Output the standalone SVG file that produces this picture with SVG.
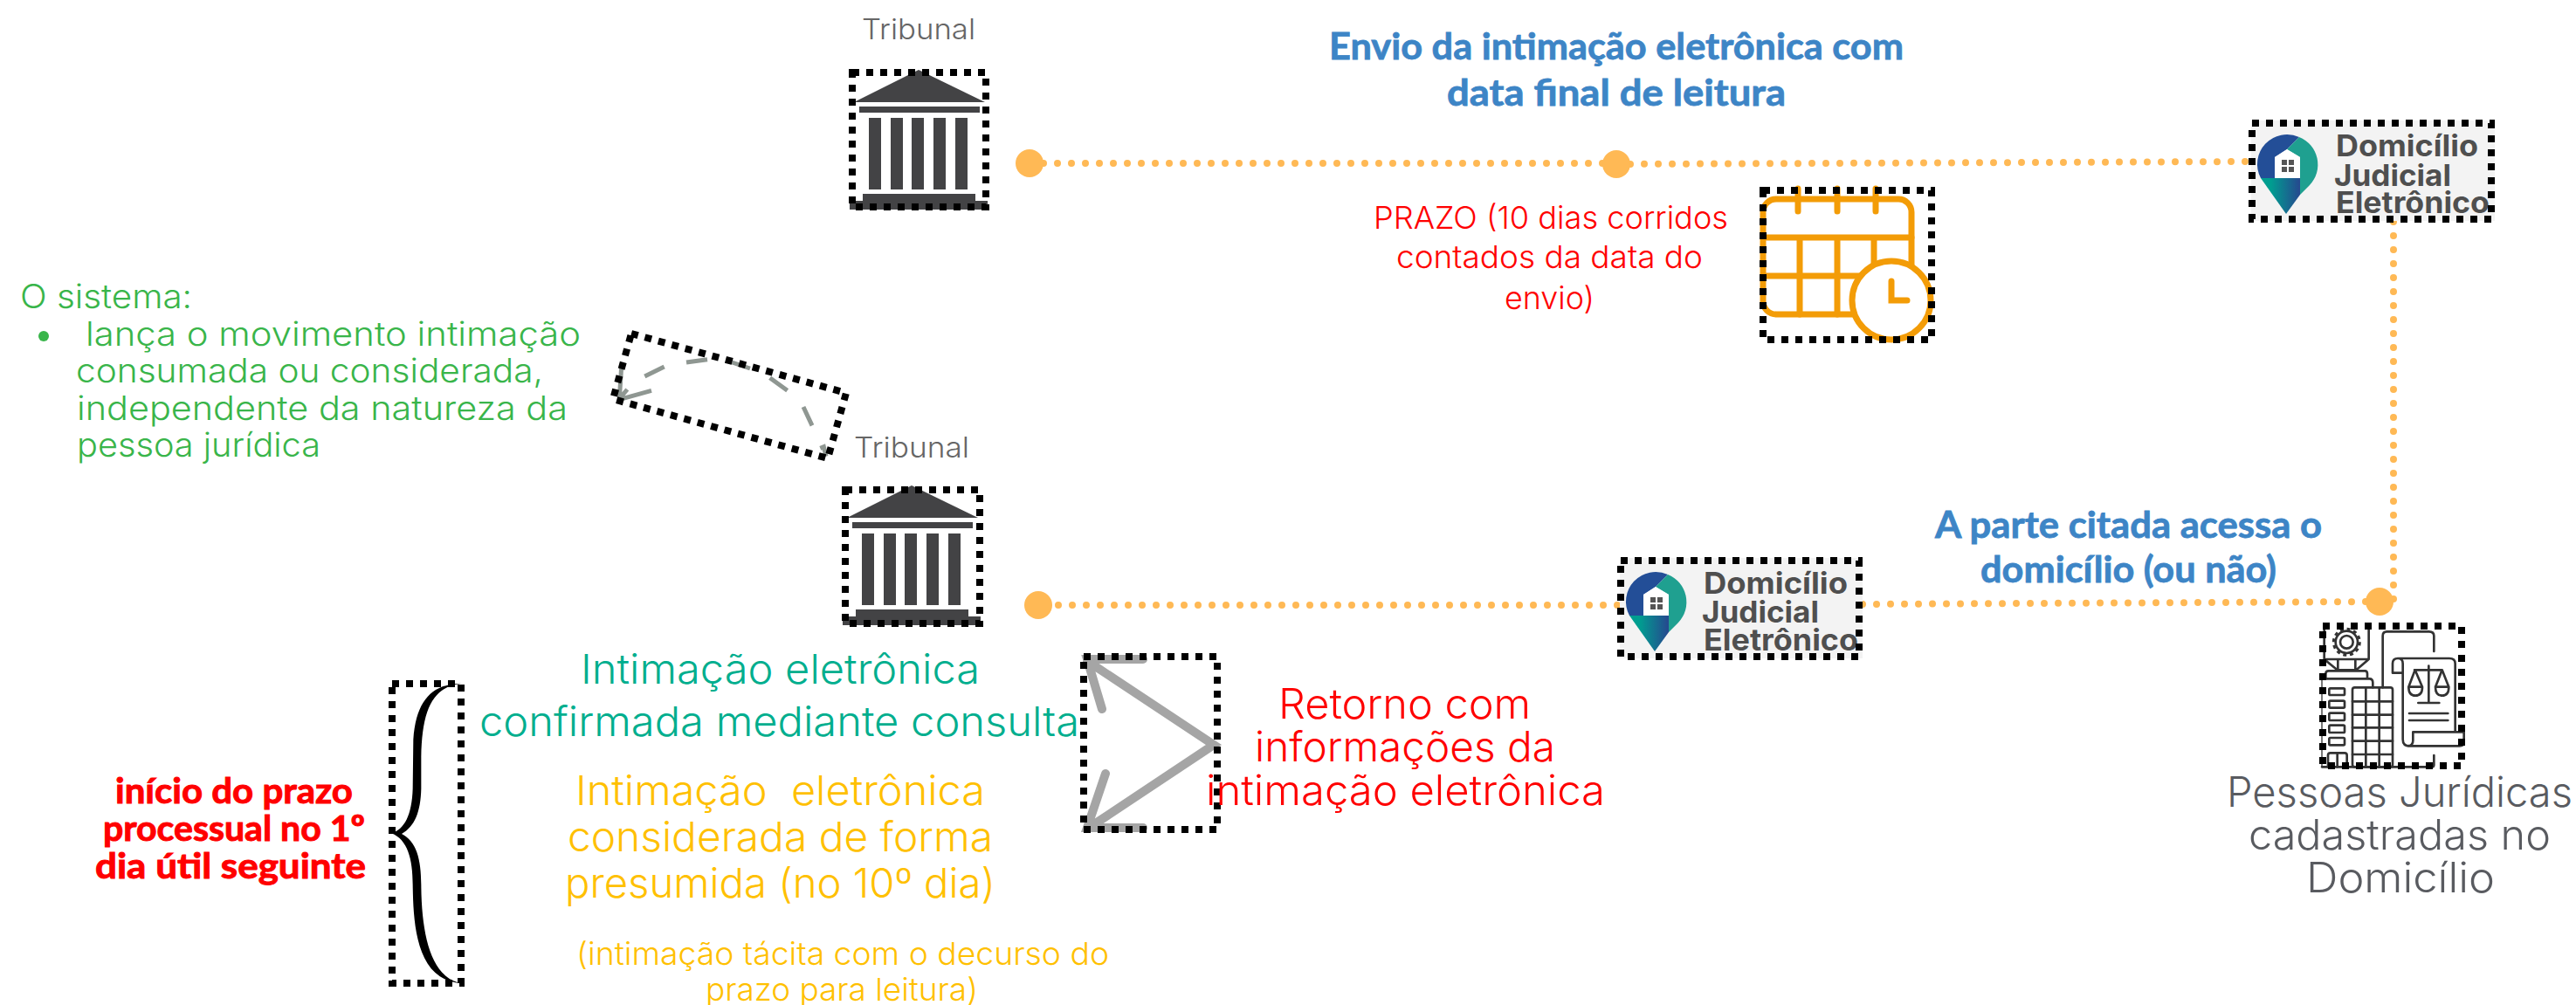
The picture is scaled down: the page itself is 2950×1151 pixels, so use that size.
<svg xmlns="http://www.w3.org/2000/svg" xmlns:xlink="http://www.w3.org/1999/xlink" width="2950" height="1151" viewBox="0 0 2950 1151">
<style>
text{font-family:"Inter","Noto Sans",sans-serif;font-weight:300}
.hand{font-family:"Lato","Noto Sans",sans-serif;font-weight:700}
.blue{fill:#3d85c6;font-size:42px;stroke:#3d85c6;stroke-width:.8px}
.logo{font-family:"Inter","Liberation Sans",sans-serif;font-weight:700;font-size:34px;fill:#4f4f4f}
.sel{fill:none;stroke:#000;stroke-width:8;stroke-dasharray:8 8}
.dots{fill:none;stroke:#ffb955;stroke-width:8;stroke-linecap:round;stroke-dasharray:0 16}
.end{fill:#ffb955}
.trib{font-size:33px;fill:#666}
.green{font-size:38px;fill:#39b54a}
.teal{font-size:47px;fill:#00ae8e}
.yel{fill:#ffc000}
.red{fill:#f00}
.pj{font-size:48px;fill:#595b60}
.ln{fill:none;stroke:#333;stroke-width:8;stroke-linejoin:round;stroke-linecap:round}
.cal{fill:none;stroke:#f39c07;stroke-width:7;stroke-linecap:round}
.dash{fill:none;stroke:#8f9792;stroke-width:15}
.arrow{fill:none;stroke:#a5a5a5;stroke-width:10;stroke-linecap:round;stroke-linejoin:miter}
</style>
<defs>
<linearGradient id="pinGrad" x1="0" x2="1" y1="0" y2="0"><stop offset="0.25" stop-color="#009e90"/><stop offset="1" stop-color="#26488f"/></linearGradient>
<g id="bank" fill="#434345">
<path d="M1052 80L1128 117H978Z"/>
<rect x="984" y="122" width="138" height="7"/>
<rect x="995" y="135" width="14" height="82"/><rect x="1020" y="135" width="14" height="82"/><rect x="1044" y="135" width="14" height="82"/><rect x="1069" y="135" width="14" height="82"/><rect x="1094" y="135" width="14" height="82"/>
<rect x="988" y="222" width="129" height="9"/><rect x="973" y="230" width="158" height="10"/>
</g>
<g id="pin">
<path d="M2633 157A34 34 0 0 0 2589 204H2605V180L2619 171Z" fill="#234e97"/>
<path d="M2633 157A34 34 0 0 1 2645 212L2634 223V180L2619 171Z" fill="#1fa090"/>
<path d="M2589 204H2634V223L2618 245Z" fill="url(#pinGrad)"/>
<path d="M2619 171L2634 180V204H2605V180Z" fill="#fff"/>
<path d="M2613 183h6v6h-6zM2621 183h6v6h-6zM2613 191h6v6h-6zM2621 191h6v6h-6z" fill="#555"/>
</g>
</defs>
<rect width="2950" height="1151" fill="#fff"/>

<g id="connectors">
<path class="dots" d="M1179 187H1851"/>
<path class="dots" d="M1851 188L2575 185"/>
<path class="dots" d="M2741 254V690"/>
<path class="dots" d="M2725 689L2133 692"/>
<path class="dots" d="M1852 693H1189"/>
<circle class="end" cx="1179" cy="187" r="16"/>
<circle class="end" cx="1851" cy="188" r="16"/>
<circle class="end" cx="2725" cy="689" r="16"/>
<circle class="end" cx="1189" cy="693" r="16"/>
</g>

<g id="tribunal-1">
<text class="trib" x="987" y="45" textLength="130" lengthAdjust="spacingAndGlyphs">Tribunal</text>
<use href="#bank" xlink:href="#bank"/>
<rect class="sel" x="976" y="83" width="153" height="154"/>
</g>

<g id="label-envio">
<text class="hand blue" x="1522" y="68" textLength="658" lengthAdjust="spacingAndGlyphs">Envio da intimação eletrônica com</text>
<text class="hand blue" x="1657" y="121" textLength="388" lengthAdjust="spacingAndGlyphs">data final de leitura</text>
</g>

<g id="label-prazo">
<text class="red" font-size="36" x="1573" y="262" textLength="406" lengthAdjust="spacingAndGlyphs">PRAZO (10 dias corridos</text>
<text class="red" font-size="36" x="1599" y="307" textLength="351" lengthAdjust="spacingAndGlyphs">contados da data do</text>
<text class="red" font-size="36" x="1723" y="354" textLength="103" lengthAdjust="spacingAndGlyphs">envio)</text>
</g>

<g id="calendario">
<rect class="cal" x="2019" y="228" width="170" height="132" rx="15"/>
<path class="cal" d="M2059 216V242M2104 216V242M2148 216V242M2019 272H2189M2019 316H2130M2061 272V360M2104 272V360M2146 272V302"/>
<circle cx="2166" cy="344" r="45" fill="#fff" stroke="#f39c07" stroke-width="7"/>
<path class="cal" d="M2166 322V344H2184"/>
<rect class="sel" x="2019" y="218" width="193" height="171"/>
</g>

<g id="domicilio-1">
<rect x="2578" y="138" width="279" height="115" fill="#f3f3f3"/>
<use href="#pin" xlink:href="#pin"/>
<text class="logo" x="2675" y="179" textLength="163" lengthAdjust="spacingAndGlyphs">Domicílio</text>
<text class="logo" x="2673" y="213" textLength="134" lengthAdjust="spacingAndGlyphs">Judicial</text>
<text class="logo" x="2675" y="244" textLength="176" lengthAdjust="spacingAndGlyphs">Eletrônico</text>
<rect class="sel" x="2579" y="141" width="274" height="110"/>
</g>

<g id="pessoas-juridicas">
<g transform="translate(2620 660) scale(.33333)">
<path class="ln" d="M125 165V285L170 322H235L278 285V165M125 285H278M172 285V322M232 285V322"/>
<circle class="ln" cx="202" cy="226" r="22"/>
<circle class="ln" cx="202" cy="226" r="38"/>
<circle cx="202" cy="226" r="45" fill="none" stroke="#333" stroke-width="9" stroke-dasharray="12 11.5"/>
<path class="ln" d="M130 350V335Q130 325 140 325H265Q273 325 273 335V350M115 352H280Q292 352 292 365V382"/>
<path d="M117 352V655" fill="none" stroke="#333" stroke-width="4"/>
<rect class="ln" x="142" y="385" width="53" height="23" rx="4"/><rect class="ln" x="142" y="428" width="53" height="24" rx="4"/><rect class="ln" x="142" y="470" width="53" height="25" rx="4"/><rect class="ln" x="142" y="512" width="53" height="25" rx="4"/><rect class="ln" x="142" y="555" width="53" height="25" rx="4"/>
<path class="ln" d="M138 655V615Q138 607 146 607H195Q203 607 203 615V655M170 607V655"/>
<rect class="ln" x="222" y="382" width="138" height="273" rx="8"/>
<path class="ln" d="M268 382V655M314 382V655M222 430H360M222 476H360M222 520H360M222 566H360M222 612H360"/>
<path class="ln" d="M326 382V205Q326 190 340 190H485Q502 190 502 205V258"/>
<path class="ln" d="M378 282H555Q575 282 575 300V535M395 300V560Q395 583 418 583H590Q605 583 605 570V535H430V565Q430 583 412 583M395 300Q395 282 378 282Q360 282 360 300V332H395"/>
<path class="ln" d="M484 308V435M448 435H520M435 322H530M437 322L415 380H462ZM415 380Q415 410 438 410Q462 410 462 380M530 322L507 380H553ZM507 380Q507 410 530 410Q553 410 553 380M417 471H550M417 495H550"/>
<path class="ln" d="M502 615V648Q502 655 495 655H117"/>
</g>
<rect class="sel" x="2660" y="717" width="159" height="160"/>
<text class="pj" x="2550" y="924" textLength="396" lengthAdjust="spacingAndGlyphs">Pessoas Jurídicas</text>
<text class="pj" x="2575" y="973" textLength="346" lengthAdjust="spacingAndGlyphs">cadastradas no</text>
<text class="pj" x="2641" y="1022" textLength="216" lengthAdjust="spacingAndGlyphs">Domicílio</text>
</g>

<g id="label-acessa">
<text class="hand blue" x="2216" y="616" textLength="443" lengthAdjust="spacingAndGlyphs">A parte citada acessa o</text>
<text class="hand blue" x="2268" y="667" textLength="339" lengthAdjust="spacingAndGlyphs">domicílio (ou não)</text>
</g>

<g id="domicilio-2">
<rect x="1855" y="639" width="278" height="115" fill="#f3f3f3"/>
<use href="#pin" xlink:href="#pin" transform="translate(-723 501)"/>
<text class="logo" x="1951" y="680" textLength="165" lengthAdjust="spacingAndGlyphs">Domicílio</text>
<text class="logo" x="1949" y="713" textLength="134" lengthAdjust="spacingAndGlyphs">Judicial</text>
<text class="logo" x="1951" y="745" textLength="177" lengthAdjust="spacingAndGlyphs">Eletrônico</text>
<rect class="sel" x="1856" y="642" width="273" height="110"/>
</g>

<g id="sistema">
<text class="green" x="23" y="353" textLength="197" lengthAdjust="spacingAndGlyphs">O sistema:</text>
<circle cx="50" cy="385" r="6" fill="#39b54a"/>
<text class="green" x="98" y="396" textLength="567" lengthAdjust="spacingAndGlyphs">lança o movimento intimação</text>
<text class="green" x="87" y="438" textLength="535" lengthAdjust="spacingAndGlyphs">consumada ou considerada,</text>
<text class="green" x="88" y="481" textLength="562" lengthAdjust="spacingAndGlyphs">independente da natureza da</text>
<text class="green" x="88" y="523" textLength="279" lengthAdjust="spacingAndGlyphs">pessoa jurídica</text>
</g>

<g id="seta-curva">
<g transform="translate(660 360) scale(.33333)">
<path class="dash" d="M810 382L780 318M725 262L665 218M597 186L535 165M450 155L378 165M302 180L235 213M258 262L150 292M175 258L148 290M155 180L148 290M858 488L850 455L838 460"/>
</g>
<path class="sel" d="M723 382L969 450L948 525L702 457Z"/>
</g>

<g id="tribunal-2">
<text class="trib" x="978" y="524" textLength="132" lengthAdjust="spacingAndGlyphs">Tribunal</text>
<use href="#bank" xlink:href="#bank" transform="translate(-8 476)"/>
<rect class="sel" x="968" y="561" width="154" height="153"/>
</g>

<g id="textos-intimacao">
<text class="teal" x="665" y="783" textLength="457" lengthAdjust="spacingAndGlyphs">Intimação eletrônica</text>
<text class="teal" x="549" y="843" textLength="687" lengthAdjust="spacingAndGlyphs">confirmada mediante consulta</text>
<text class="yel" font-size="47" x="659" y="922" textLength="469" lengthAdjust="spacingAndGlyphs" xml:space="preserve">Intimação  eletrônica</text>
<text class="yel" font-size="47" x="650" y="975" textLength="487" lengthAdjust="spacingAndGlyphs">considerada de forma</text>
<text class="yel" font-size="47" x="647" y="1028" textLength="493" lengthAdjust="spacingAndGlyphs">presumida (no 10º dia)</text>
<text class="yel" font-size="36" x="660" y="1105" textLength="610" lengthAdjust="spacingAndGlyphs">(intimação tácita com o decurso do</text>
<text class="yel" font-size="36" x="808" y="1146" textLength="312" lengthAdjust="spacingAndGlyphs">prazo para leitura)</text>
</g>

<g id="seta-retorno">
<path class="arrow" d="M1309 755H1245L1262 812M1245 757L1390 853L1250 946M1266 886L1245 948H1309"/>
<rect class="sel" x="1241" y="752" width="153" height="198"/>
</g>

<g id="label-retorno">
<text class="red" font-size="48" x="1464" y="823" textLength="289" lengthAdjust="spacingAndGlyphs">Retorno com</text>
<text class="red" font-size="48" x="1437" y="872" textLength="344" lengthAdjust="spacingAndGlyphs">informações da</text>
<text class="red" font-size="48" x="1381" y="922" textLength="457" lengthAdjust="spacingAndGlyphs">intimação eletrônica</text>
</g>

<g id="chave">
<g transform="translate(100 770) scale(.33333)">
<path d="M1285 38C1190 40 1130 90 1120 230L1118 400C1115 490 1090 540 1045 553C1100 575 1118 640 1118 730C1120 850 1125 1060 1285 1068C1180 1050 1148 900 1147 730C1147 640 1130 580 1080 555C1125 530 1145 480 1147 400V290C1150 130 1185 50 1285 38Z" fill="#000"/>
</g>
<rect class="sel" x="449" y="783" width="79" height="343"/>
</g>

<g id="label-inicio">
<text class="hand red" font-size="41" stroke="#f00" stroke-width="1" x="132" y="920" textLength="272" lengthAdjust="spacingAndGlyphs">início do prazo</text>
<text class="hand red" font-size="41" stroke="#f00" stroke-width="1" x="118" y="963" textLength="300" lengthAdjust="spacingAndGlyphs">processual no 1º</text>
<text class="hand red" font-size="41" stroke="#f00" stroke-width="1" x="109" y="1006" textLength="310" lengthAdjust="spacingAndGlyphs">dia útil seguinte</text>
</g>
</svg>
